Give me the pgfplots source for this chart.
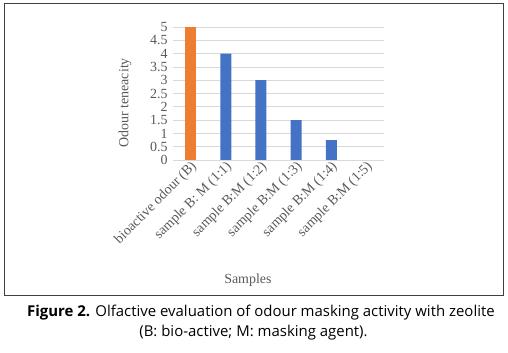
\documentclass[border=0pt]{standalone}
\usepackage{fontspec}
\setmainfont{Liberation Serif}
\newfontfamily\capfont{Open Sans}
\usepackage{pgfplots}
\pgfplotsset{compat=1.18}
\definecolor{barblue}{HTML}{4472C4}
\definecolor{barorange}{HTML}{ED7D31}
\definecolor{gridgray}{HTML}{D9D9D9}
\definecolor{txtgray}{HTML}{595959}
\begin{document}
\begin{tikzpicture}
\useasboundingbox (0,0) rectangle (508bp,353bp);
\draw[black!75, line width=1bp] (4.5bp,57bp) rectangle (503.5bp,349bp);
\begin{axis}[
  at={(173bp,193bp)}, anchor=south west,
  scale only axis, width=211bp, height=133bp,
  xmin=-0.5, xmax=5.5, ymin=0, ymax=5,
  axis line style={draw=none},
  tick style={draw=none},
  ymajorgrids, grid style={gridgray, line width=0.8bp},
  ytick={0,0.5,...,5},
  yticklabels={0,0.5,1,1.5,2,2.5,3,3.5,4,4.5,5},
  xtick={0,1,2,3,4,5},
  xticklabels={bioactive odour (B),sample B: M (1:1),sample B:M (1:2),sample B:M (1:3),sample B:M (1:4),sample B:M (1:5)},
  x tick label style={rotate=45, anchor=east, xshift=6bp, yshift=-3bp},
  y tick label style={xshift=-2bp},
  tick label style={font=\fontsize{14}{16}\selectfont, text=txtgray},
  /pgf/number format/assume math mode=true,
  ylabel={Odour teneacity},
  xlabel={Samples},
  label style={font=\fontsize{14}{16}\selectfont, text=txtgray},
  ylabel style={at={(axis description cs:-0.227,0.43)}, anchor=center},
  xlabel style={at={(axis description cs:0.355,-0.9)}, anchor=center},
  ybar, bar width=11bp,
  clip=false,
]
\addplot[fill=barorange, draw=none, bar shift=0pt] coordinates {(0,5)};
\addplot[fill=barblue, draw=none, bar shift=0pt] coordinates {(1,4) (2,3) (3,1.5) (4,0.75)};
\end{axis}
\node[font=\capfont\fontsize{15}{17}\selectfont, anchor=west, inner sep=0pt] at (27bp,40bp) {\textbf{Figure 2.} Olfactive evaluation of odour masking activity with zeolite};
\node[font=\capfont\fontsize{15}{17}\selectfont, anchor=center] at (253.5bp,20bp) {(B: bio-active; M: masking agent).};
\end{tikzpicture}
\end{document}
